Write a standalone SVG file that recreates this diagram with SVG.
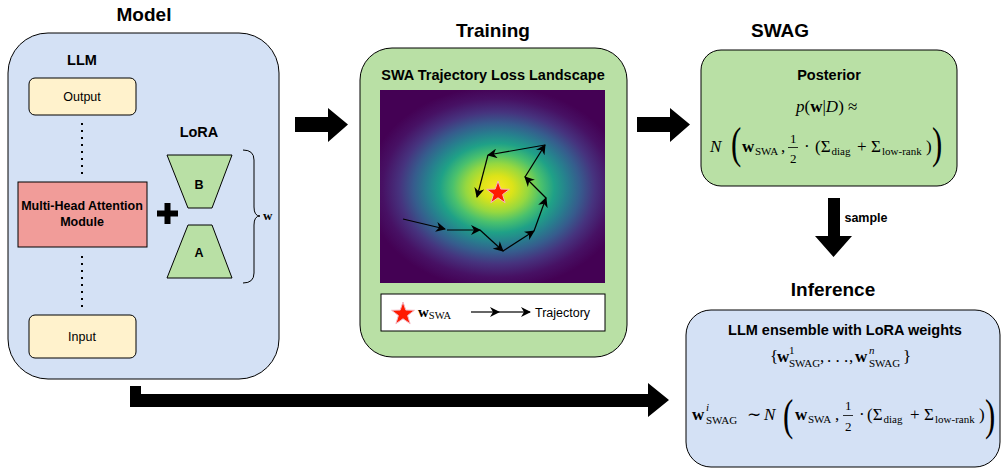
<svg xmlns="http://www.w3.org/2000/svg" width="1002" height="468" viewBox="0 0 1002 468">
<style>
  .title{font-family:"Liberation Sans",Arial,sans-serif;font-weight:bold;font-size:19px;text-anchor:middle;fill:#000}
  .sub{font-family:"Liberation Sans",Arial,sans-serif;font-weight:bold;font-size:14.5px;text-anchor:middle;fill:#000}
  .lbl{font-family:"Liberation Sans",Arial,sans-serif;font-size:12.5px;text-anchor:middle;fill:#000}
  .blbl{font-family:"Liberation Sans",Arial,sans-serif;font-weight:bold;font-size:12.5px;text-anchor:middle;fill:#000}
  .m{font-family:"Liberation Serif","Times New Roman",serif;font-size:17px;fill:#000}
  .mb{font-weight:bold}
  .mi{font-style:italic}
  .ms{font-size:11px}
  .mf{font-size:13px}
  .big{font-family:"Liberation Serif","Times New Roman",serif;font-size:44px;fill:#000}
  .blue{fill:#d4e1f5;stroke:#000;stroke-width:1}
  .green{fill:#b9e0a5;stroke:#000;stroke-width:1}
  .yellow{fill:#fff2cc;stroke:#000;stroke-width:1}
  .block{fill:#000;stroke:none}
  .traj{stroke:#000;stroke-width:1.2;fill:none;marker-end:url(#ah)}
  .dots{stroke:#000;stroke-width:2;stroke-dasharray:2 5;fill:none}
</style>
<defs>
  <marker id="ah" viewBox="0 0 10 10" refX="9" refY="5" markerWidth="10" markerHeight="10" markerUnits="userSpaceOnUse" orient="auto">
    <path d="M0,0 L10,5 L0,10 L3,5 z" fill="#000"/>
  </marker>
  <radialGradient id="loss" gradientUnits="userSpaceOnUse" cx="497" cy="188" r="130" gradientTransform="translate(0,188) scale(1,0.78) translate(0,-188)">
    <stop offset="0" stop-color="#fde725"/>
    <stop offset="0.12" stop-color="#dde318"/>
    <stop offset="0.24" stop-color="#95d840"/>
    <stop offset="0.34" stop-color="#4ac16d"/>
    <stop offset="0.44" stop-color="#1fa187"/>
    <stop offset="0.54" stop-color="#277f8e"/>
    <stop offset="0.64" stop-color="#365c8d"/>
    <stop offset="0.75" stop-color="#46337e"/>
    <stop offset="0.88" stop-color="#471164"/>
    <stop offset="1" stop-color="#440154"/>
  </radialGradient>
  <polygon id="star" points="0,-12 2.8,-3.9 11.4,-3.7 4.6,1.5 7.1,9.7 0,4.8 -7.1,9.7 -4.6,1.5 -11.4,-3.7 -2.8,-3.9"/>
</defs>

<!-- Titles -->
<text class="title" x="144" y="21">Model</text>
<text class="title" x="493" y="37">Training</text>
<text class="title" x="780" y="37">SWAG</text>
<text class="title" x="833" y="296">Inference</text>

<!-- Model container -->
<g id="model">
  <rect class="blue" x="8" y="33" width="271" height="346" rx="40" ry="40"/>
  <text class="sub" x="82" y="65">LLM</text>
  <line class="dots" x1="82" y1="123" x2="82" y2="178"/>
  <line class="dots" x1="82" y1="256" x2="82" y2="312"/>
</g>
<g id="output">
  <rect class="yellow" x="29" y="78" width="107" height="37" rx="6"/>
  <text class="lbl" x="82" y="101">Output</text>
</g>
<g id="mha">
  <rect x="18" y="182" width="129" height="65" fill="#f19c99" stroke="#000" stroke-width="1"/>
  <text class="blbl" x="82" y="210">Multi-Head Attention</text>
  <text class="blbl" x="82" y="226">Module</text>
</g>
<g id="input">
  <rect class="yellow" x="29" y="315" width="107" height="43" rx="6"/>
  <text class="lbl" x="82" y="341">Input</text>
</g>
<g id="plus">
  <rect x="157" y="210.5" width="21" height="6" fill="#000"/>
  <rect x="164.5" y="203" width="6" height="21" fill="#000"/>
</g>
<g id="lora">
  <text class="sub" x="199" y="137">LoRA</text>
  <polygon class="green" points="167,155 232,155 212,208 188,208"/>
  <text class="blbl" x="199" y="189">B</text>
  <polygon class="green" points="188,225 212,225 232,278 167,278"/>
  <text class="blbl" x="199" y="257">A</text>
  <path d="M243,150 Q254,150 254,160 L254,207 Q254,216 260,216 Q254,216 254,225 L254,273 Q254,283 243,283" fill="none" stroke="#000" stroke-width="1"/>
  <text x="263" y="220" font-family="Liberation Serif,serif" font-weight="bold" font-size="13">w</text>
</g>

<!-- Training container -->
<g id="training">
  <rect class="green" x="360" y="48" width="267" height="309" rx="32" ry="32"/>
  <text class="sub" x="493" y="80">SWA Trajectory Loss Landscape</text>
</g>
<g id="landscape">
  <rect x="380" y="90" width="225" height="193" fill="#440154"/>
  <rect x="380" y="90" width="225" height="193" fill="url(#loss)"/>
  <polyline class="traj" points="403,219 445,229"/>
  <polyline class="traj" points="447,230 480,230"/>
  <polyline class="traj" points="480,230 503,251"/>
  <polyline class="traj" points="503,251 534,231"/>
  <polyline class="traj" points="534,231 546,198"/>
  <polyline class="traj" points="546,198 525,177"/>
  <polyline class="traj" points="525,177 545,145"/>
  <polyline class="traj" points="545,145 488,155"/>
  <polyline class="traj" points="488,155 477,197"/>
  <use href="#star" x="498" y="193" fill="#ff1a00" stroke="#f4b6c2" stroke-width="1"/>
</g>
<g id="legend">
  <rect x="381" y="294" width="224" height="37" fill="#fff" stroke="#000" stroke-width="1"/>
  <use href="#star" x="403" y="314" fill="#ff1a00" stroke="#f4b6c2" stroke-width="1"/>
  <text x="418" y="317" font-family="Liberation Serif,serif" font-size="15"><tspan font-weight="bold">w</tspan><tspan font-size="10.5" dy="2">SWA</tspan></text>
  <polyline class="traj" points="471,312 499,312"/>
  <polyline class="traj" points="499,312 530,312"/>
  <text class="lbl" x="535" y="317" style="text-anchor:start">Trajectory</text>
</g>

<!-- Posterior -->
<g id="posterior">
  <rect class="green" x="701" y="50" width="256" height="136" rx="20" ry="20"/>
  <text class="sub" x="829" y="80">Posterior</text>
  <text class="m" x="796" y="112"><tspan class="mi">p</tspan>(<tspan class="mb">w</tspan>|<tspan class="mi">D</tspan>) ≈</text>
  <text class="m mi" x="710" y="152">N</text>
  <text class="big" transform="translate(731,158) scale(0.7,1)">(</text>
  <text class="m mb" x="742" y="152">w</text>
  <text class="m ms" x="755" y="155">SWA</text>
  <text class="m" x="781" y="152">,</text>
  <text class="m mf" x="790" y="143">1</text>
  <line x1="788" y1="147.5" x2="798" y2="147.5" stroke="#000" stroke-width="0.8"/>
  <text class="m mf" x="790" y="163">2</text>
  <text class="m" x="804" y="152">·</text>
  <text class="m" x="815" y="152">(Σ</text>
  <text class="m ms" x="831.5" y="155">diag</text>
  <text class="m" x="857" y="152">+</text>
  <text class="m" x="871" y="152">Σ</text>
  <text class="m ms" x="882" y="155">low-rank</text>
  <text class="m" x="926" y="152">)</text>
  <text class="big" transform="translate(932,158) scale(0.7,1)">)</text>
</g>

<!-- Inference -->
<g id="inference">
  <rect class="blue" x="686" y="310" width="314" height="157" rx="25" ry="25"/>
  <text class="sub" x="845" y="335">LLM ensemble with LoRA weights</text>
  <text class="m" x="770" y="362" font-size="16">{</text>
  <text class="m mb" x="777" y="362" font-size="16">w</text>
  <text class="m ms" x="789" y="354">1</text>
  <text class="m ms" x="789" y="367">SWAG</text>
  <text class="m" x="820" y="362" font-size="16">,</text>
  <text class="m" x="827" y="362" font-size="16">. . .</text>
  <text class="m" x="849" y="362" font-size="16">,</text>
  <text class="m mb" x="855" y="362" font-size="16">w</text>
  <text class="m ms mi" x="869" y="354">n</text>
  <text class="m ms" x="869" y="367">SWAG</text>
  <text class="m" x="903" y="362" font-size="16">}</text>

  <text class="m mb" x="692" y="420">w</text>
  <text class="m ms mi" x="706" y="411">i</text>
  <text class="m ms" x="706" y="424" font-size="11.5">SWAG</text>
  <text class="m" x="747" y="420">∼</text>
  <text class="m mi" x="764" y="420">N</text>
  <text class="big" transform="translate(783,430) scale(0.7,1)">(</text>
  <text class="m mb" x="795" y="420">w</text>
  <text class="m ms" x="808" y="423">SWA</text>
  <text class="m" x="835" y="420">,</text>
  <text class="m mf" x="845" y="410">1</text>
  <line x1="843" y1="415.5" x2="853" y2="415.5" stroke="#000" stroke-width="0.8"/>
  <text class="m mf" x="845" y="431">2</text>
  <text class="m" x="859" y="420">·</text>
  <text class="m" x="867" y="420">(Σ</text>
  <text class="m ms" x="883.5" y="423">diag</text>
  <text class="m" x="910" y="420">+</text>
  <text class="m" x="924" y="420">Σ</text>
  <text class="m ms" x="935" y="423">low-rank</text>
  <text class="m" x="979" y="420">)</text>
  <text class="big" transform="translate(985,430) scale(0.7,1)">)</text>
</g>

<!-- Connectors -->
<g id="connectors">
  <polygon class="block" points="295,117 328,117 328,108 348,124.5 328,142 328,132 295,132"/>
  <polygon class="block" points="637,117 670,117 670,108 690,124.5 670,142 670,132 637,132"/>
  <polygon class="block" points="828,198 840,198 840,236 852,236 833.5,257 815,236 828,236"/>
  <text class="blbl" x="866" y="222">sample</text>
  <polygon class="block" points="130,386 141,386 141,394 648,394 648,383 669,400 648,417 648,407 130,407"/>
</g>
</svg>
